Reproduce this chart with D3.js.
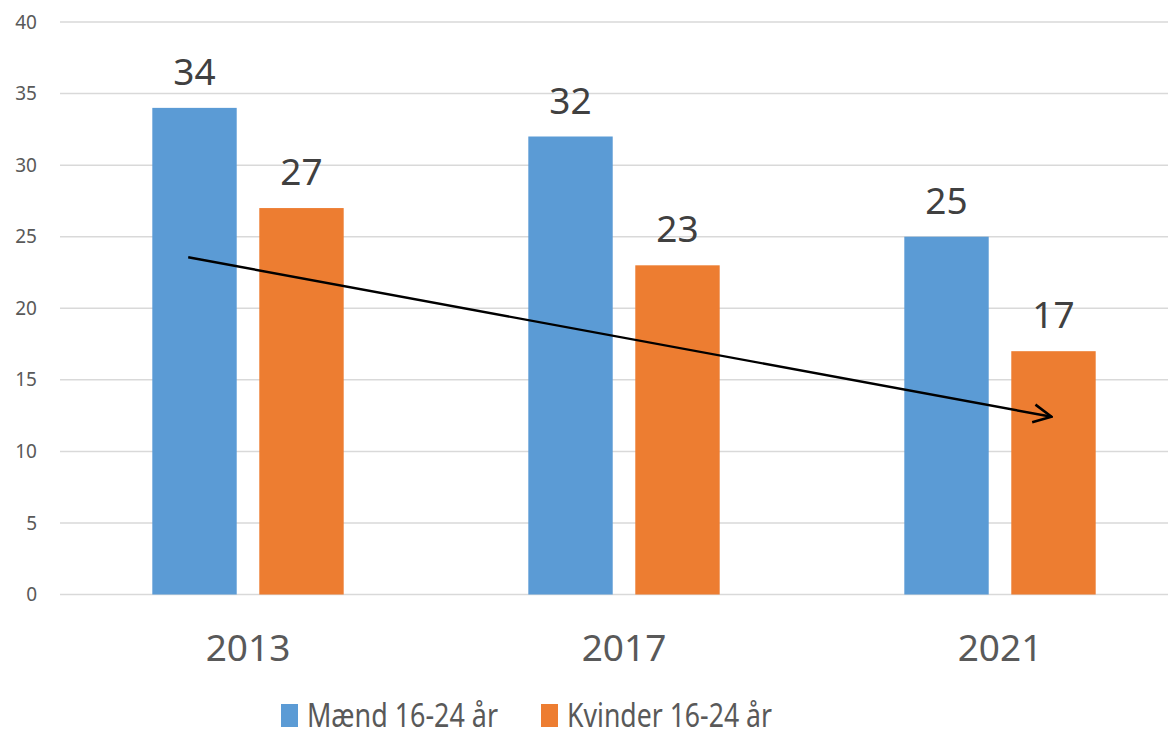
<!DOCTYPE html>
<html>
<head>
<meta charset="utf-8">
<script src="https://cdn.jsdelivr.net/npm/d3@7"></script>
<style>
  body { margin: 0; background: #fff; }
  svg { display: block; font-family: "Noto Sans", "Open Sans", sans-serif; }
</style>
</head>
<body>
<svg id="chart" width="1168" height="737"></svg>
<script>
"use strict";

const years = ["2013", "2017", "2021"];
const seriesNames = ["Mænd 16-24 år", "Kvinder 16-24 år"];
const maend = [34, 32, 25];
const kvinder = [27, 23, 17];
const yTicks = [0, 5, 10, 15, 20, 25, 30, 35, 40];
// trend arrow, in data terms: year band + offset (share of step), value
const arrowFrom = { year: "2013", off: -0.159, value: 23.56 };
const arrowTo = { year: "2021", off: 0.137, value: 12.42 };

const colors = ["#5B9BD5", "#ED7D31"];
const width = 1168;
const plotLeft = 60;
const plotRight = 1188; // plot goes a bit past the picture edge
const yTop = 22;
const yBottom = 594.5;

const svg = d3.select("#chart");

const x0 = d3.scaleBand()
  .domain(years)
  .range([plotLeft, plotRight])
  .paddingInner(0.491)
  .paddingOuter(0.2455);

const x1 = d3.scaleBand()
  .domain(seriesNames)
  .range([0, x0.bandwidth()])
  .paddingInner(0.211);

const y = d3.scaleLinear().domain([0, 40]).range([yBottom, yTop]);

// gridlines
svg.append("g")
  .selectAll("line")
  .data(yTicks)
  .enter()
  .append("line")
  .attr("x1", plotLeft)
  .attr("x2", width)
  .attr("y1", (d) => y(d))
  .attr("y2", (d) => y(d))
  .attr("stroke", "#d9d9d9")
  .attr("stroke-width", 1.5);

// y axis labels
const yAxis = d3.axisLeft(y).tickValues(yTicks).tickSize(0).tickPadding(0);
const yg = svg.append("g")
  .attr("transform", "translate(37,0)")
  .call(yAxis);
yg.select(".domain").remove();
yg.selectAll("text")
  .attr("fill", "#595959")
  .style("font-size", "19px")
  .style("font-family", "Noto Sans, sans-serif");

// bars
const rows = years.map((yr, i) => ({
  year: yr,
  values: [
    { name: seriesNames[0], v: maend[i], c: colors[0] },
    { name: seriesNames[1], v: kvinder[i], c: colors[1] },
  ],
}));

const groups = svg.append("g")
  .selectAll("g")
  .data(rows)
  .enter()
  .append("g")
  .attr("transform", (d) => `translate(${x0(d.year)},0)`);

groups.selectAll("rect")
  .data((d) => d.values)
  .enter()
  .append("rect")
  .attr("x", (d) => x1(d.name))
  .attr("y", (d) => y(d.v))
  .attr("width", x1.bandwidth())
  .attr("height", (d) => y(0) - y(d.v))
  .attr("fill", (d) => d.c);

groups.selectAll("text")
  .data((d) => d.values)
  .enter()
  .append("text")
  .attr("x", (d) => x1(d.name) + x1.bandwidth() / 2)
  .attr("y", (d) => y(d.v) - 23)
  .attr("text-anchor", "middle")
  .attr("fill", "#404040")
  .style("font-size", "37px")
  .text((d) => d.v);

// x axis labels
const xAxis = d3.axisBottom(x0).tickSize(0).tickPadding(0);
const xg = svg.append("g")
  .attr("transform", `translate(0,${yBottom + 40})`)
  .call(xAxis);
xg.select(".domain").remove();
xg.selectAll("text")
  .attr("fill", "#595959")
  .style("font-size", "37px")
  .style("font-family", "Noto Sans, sans-serif");

// arrow
const defs = svg.append("defs");
defs.append("marker")
  .attr("id", "arrow-open")
  .attr("viewBox", "0 0 12 12")
  .attr("refX", 11)
  .attr("refY", 6)
  .attr("markerWidth", 9)
  .attr("markerHeight", 9)
  .attr("markerUnits", "strokeWidth")
  .attr("orient", "auto")
  .append("path")
  .attr("d", "M1,1L11,6L1,11")
  .attr("fill", "none")
  .attr("stroke", "#000")
  .attr("stroke-width", 1.4);

function arrowX(p) {
  return x0(p.year) + x0.bandwidth() / 2 + p.off * x0.step();
}

svg.append("line")
  .attr("x1", arrowX(arrowFrom))
  .attr("y1", y(arrowFrom.value))
  .attr("x2", arrowX(arrowTo))
  .attr("y2", y(arrowTo.value))
  .attr("stroke", "#000")
  .attr("stroke-width", 2.4)
  .attr("marker-end", "url(#arrow-open)");

// legend (text squeezed to the narrow original face)
const legendPos = [281, 541];
const legendTextLen = [191, 205];
const legend = svg.append("g")
  .selectAll("g")
  .data(seriesNames)
  .enter()
  .append("g")
  .attr("transform", (d, i) => `translate(${legendPos[i]},704)`);

legend.append("rect")
  .attr("width", 17)
  .attr("height", 23)
  .attr("fill", (d, i) => colors[i]);

legend.append("text")
  .attr("x", 26)
  .attr("y", 23)
  .attr("fill", "#595959")
  .attr("textLength", (d, i) => legendTextLen[i])
  .attr("lengthAdjust", "spacingAndGlyphs")
  .style("font-size", "33px")
  .text((d) => d);
</script>
</body>
</html>
